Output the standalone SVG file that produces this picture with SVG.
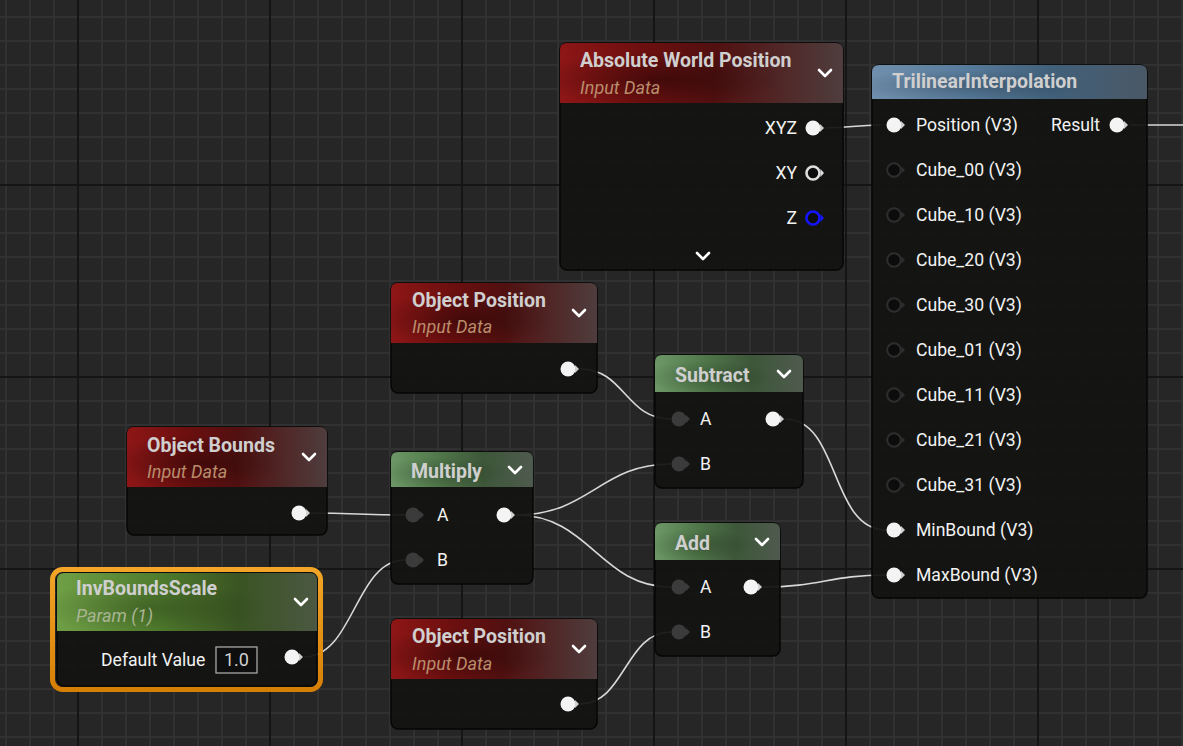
<svg xmlns="http://www.w3.org/2000/svg" xmlns:xlink="http://www.w3.org/1999/xlink" width="1183" height="746" viewBox="0 0 1183 746">
<defs>
<style>
.title{font-family:Roboto,"Liberation Sans",sans-serif;font-weight:bold;font-size:19.5px;fill:#cfcfcf}
.sub{font-family:Roboto,"Liberation Sans",sans-serif;font-style:italic;font-size:18px;fill:#b98d6c}
.subg{font-family:Roboto,"Liberation Sans",sans-serif;font-style:italic;font-size:18px;fill:#a9b592}
.pin{font-family:Roboto,"Liberation Sans",sans-serif;font-size:17.6px;fill:#f2f2f2}
.val{font-family:Roboto,"Liberation Sans",sans-serif;font-size:18px;fill:#d0d0d0}
.chev{fill:none;stroke:#fff;stroke-width:2.6;stroke-linecap:round;stroke-linejoin:round}
.body{fill:#131412;fill-opacity:0.94;stroke:#060606;stroke-width:1.5}
.wire{fill:none;stroke:#d8d8d8;stroke-width:1.6}
</style>
<pattern id="minor" x="5" y="16" width="24" height="24" patternUnits="userSpaceOnUse">
<rect width="24" height="24" fill="#262626"/>
<rect x="0" y="0" width="2" height="24" fill="#313131"/>
<rect x="0" y="0" width="24" height="2" fill="#313131"/>
</pattern>
<pattern id="major" x="77" y="184" width="192" height="192" patternUnits="userSpaceOnUse">
<rect x="0" y="0" width="2" height="192" fill="#151515"/>
<rect x="0" y="0" width="192" height="2" fill="#151515"/>
</pattern>
<linearGradient id="gRed" x1="0" y1="0" x2="1" y2="0">
<stop offset="0" stop-color="#8e1616"/>
<stop offset="0.3" stop-color="#6c0f0f"/>
<stop offset="0.55" stop-color="#521010"/>
<stop offset="1" stop-color="#4f3d3d"/>
</linearGradient>
<linearGradient id="gGreen" x1="0" y1="0" x2="1" y2="0">
<stop offset="0" stop-color="#6d9866"/>
<stop offset="0.35" stop-color="#4f7649"/>
<stop offset="0.65" stop-color="#3d5739"/>
<stop offset="1" stop-color="#4f5a4e"/>
</linearGradient>
<linearGradient id="gParam" x1="0" y1="0" x2="1" y2="0">
<stop offset="0" stop-color="#6f9f45"/>
<stop offset="0.4" stop-color="#4f7b2d"/>
<stop offset="0.7" stop-color="#3a5422"/>
<stop offset="1" stop-color="#4b5842"/>
</linearGradient>
<linearGradient id="gBlue" x1="0" y1="0" x2="1" y2="0">
<stop offset="0" stop-color="#6f8fad"/>
<stop offset="0.35" stop-color="#577b9b"/>
<stop offset="0.65" stop-color="#41607a"/>
<stop offset="1" stop-color="#4a5866"/>
</linearGradient>
<radialGradient id="gShade" cx="0.35" cy="0.6" r="0.45">
<stop offset="0" stop-color="#000" stop-opacity="0.35"/>
<stop offset="1" stop-color="#000" stop-opacity="0"/>
</radialGradient>
<linearGradient id="gOrange" x1="0" y1="0" x2="0" y2="1">
<stop offset="0" stop-color="#f2a527"/>
<stop offset="1" stop-color="#d67f06"/>
</linearGradient>
<g id="pinW"><circle r="7.5" fill="#f4f4f4"/><polygon points="7,-4 11,0 7,4" fill="#d0d0d0"/></g>
<g id="pinG"><circle r="7.5" fill="#3b3b3b"/><polygon points="7,-4 11,0 7,4" fill="#3b3b3b"/></g>
<g id="pinD"><circle r="6.8" fill="#0c0c0c" stroke="#2e2e2e" stroke-width="2"/><polygon points="7.5,-3.5 11,0 7.5,3.5" fill="#2e2e2e"/></g>
<g id="pinXY"><circle r="6.5" fill="#0c0c0c" stroke="#dedede" stroke-width="2.6"/><polygon points="7.5,-4 11,0 7.5,4" fill="#dedede"/></g>
<g id="pinZ"><circle r="6.5" fill="#0c0c0c" stroke="#1414ff" stroke-width="2.6"/><polygon points="7.5,-4 11,0 7.5,4" fill="#1414ff"/></g>
</defs>

<rect width="1183" height="746" fill="url(#minor)"/>
<rect width="1183" height="746" fill="url(#major)"/>

<g id="connectors">
<path class="wire" d="M825,128 C850,128 855,125 881,125"/>
<path class="wire" d="M1130,125 H1183"/>
<path class="wire" d="M580,369 C625,369 625,419 671,419"/>
<path class="wire" d="M311,513 C355,513 360,515 405,515"/>
<path class="wire" d="M304,657 C354,657 355,560 405,560"/>
<path class="wire" d="M516,515 C590,515 600,464 671,464"/>
<path class="wire" d="M516,515 C590,515 600,587 671,587"/>
<path class="wire" d="M785,419 C840,419 830,530 886,530"/>
<path class="wire" d="M763,587 C820,587 830,575 886,575"/>
<path class="wire" d="M580,704 C625,704 625,632 671,632"/>
</g>

<g id="node-absolute-world-position">
<rect class="body" x="560" y="43" width="283" height="227" rx="7"/>
<path d="M560,103 V50 Q560,43 567,43 H836 Q843,43 843,50 V103 Z" fill="url(#gRed)"/>
<path d="M560,103 V50 Q560,43 567,43 H836 Q843,43 843,50 V103 Z" fill="url(#gShade)"/>
<text class="title" x="580" y="67">Absolute World Position</text>
<text class="sub" x="580" y="94">Input Data</text>
<path class="chev" d="M819,70 L825,76 L831,70"/>
<text class="pin" x="797" y="134" text-anchor="end">XYZ</text>
<use href="#pinW" x="813" y="128"/>
<text class="pin" x="797" y="179" text-anchor="end">XY</text>
<use href="#pinXY" x="813" y="173"/>
<text class="pin" x="797" y="224" text-anchor="end">Z</text>
<use href="#pinZ" x="813" y="218"/>
<path class="chev" d="M697,253 L703,259 L709,253"/>
</g>

<g id="node-trilinear-interpolation">
<rect class="body" x="872" y="65" width="275" height="533" rx="7"/>
<path d="M872,99 V72 Q872,65 879,65 H1140 Q1147,65 1147,72 V99 Z" fill="url(#gBlue)"/>
<path d="M872,99 V72 Q872,65 879,65 H1140 Q1147,65 1147,72 V99 Z" fill="url(#gShade)" opacity="0.6"/>
<text class="title" x="892" y="88">TrilinearInterpolation</text>
<use href="#pinW" x="894" y="125"/>
<text class="pin" x="916" y="131">Position (V3)</text>
<text class="pin" x="1051" y="131">Result</text>
<use href="#pinW" x="1117" y="125"/>
<use href="#pinD" x="894" y="170"/><text class="pin" x="916" y="176">Cube_00 (V3)</text>
<use href="#pinD" x="894" y="215"/><text class="pin" x="916" y="221">Cube_10 (V3)</text>
<use href="#pinD" x="894" y="260"/><text class="pin" x="916" y="266">Cube_20 (V3)</text>
<use href="#pinD" x="894" y="305"/><text class="pin" x="916" y="311">Cube_30 (V3)</text>
<use href="#pinD" x="894" y="350"/><text class="pin" x="916" y="356">Cube_01 (V3)</text>
<use href="#pinD" x="894" y="395"/><text class="pin" x="916" y="401">Cube_11 (V3)</text>
<use href="#pinD" x="894" y="440"/><text class="pin" x="916" y="446">Cube_21 (V3)</text>
<use href="#pinD" x="894" y="485"/><text class="pin" x="916" y="491">Cube_31 (V3)</text>
<use href="#pinW" x="894" y="530"/><text class="pin" x="916" y="536">MinBound (V3)</text>
<use href="#pinW" x="894" y="575"/><text class="pin" x="916" y="581">MaxBound (V3)</text>
</g>

<g id="node-object-position-1">
<rect class="body" x="391" y="283" width="206" height="110" rx="7"/>
<path d="M391,343 V290 Q391,283 398,283 H590 Q597,283 597,290 V343 Z" fill="url(#gRed)"/>
<path d="M391,343 V290 Q391,283 398,283 H590 Q597,283 597,290 V343 Z" fill="url(#gShade)"/>
<text class="title" x="412" y="307">Object Position</text>
<text class="sub" x="412" y="333">Input Data</text>
<path class="chev" d="M573,310 L579,316 L585,310"/>
<use href="#pinW" x="568" y="369"/>
</g>

<g id="node-object-bounds">
<rect class="body" x="127" y="427" width="200" height="108" rx="7"/>
<path d="M127,487 V434 Q127,427 134,427 H320 Q327,427 327,434 V487 Z" fill="url(#gRed)"/>
<path d="M127,487 V434 Q127,427 134,427 H320 Q327,427 327,434 V487 Z" fill="url(#gShade)"/>
<text class="title" x="147" y="452">Object Bounds</text>
<text class="sub" x="147" y="478">Input Data</text>
<path class="chev" d="M303,454 L309,460 L315,454"/>
<use href="#pinW" x="299" y="513"/>
</g>

<g id="node-multiply">
<rect class="body" x="391" y="452" width="142" height="132" rx="7"/>
<path d="M391,487 V459 Q391,452 398,452 H526 Q533,452 533,459 V487 Z" fill="url(#gGreen)"/>
<path d="M391,487 V459 Q391,452 398,452 H526 Q533,452 533,459 V487 Z" fill="url(#gShade)" opacity="0.6"/>
<text class="title" x="411" y="478">Multiply</text>
<path class="chev" d="M509,467 L515,473 L521,467"/>
<use href="#pinG" x="413" y="515"/><text class="pin" x="437" y="521">A</text>
<use href="#pinG" x="413" y="560"/><text class="pin" x="437" y="566">B</text>
<use href="#pinW" x="504" y="515"/>
</g>

<g id="node-subtract">
<rect class="body" x="655" y="355" width="148" height="133" rx="7"/>
<path d="M655,392 V362 Q655,355 662,355 H796 Q803,355 803,362 V392 Z" fill="url(#gGreen)"/>
<path d="M655,392 V362 Q655,355 662,355 H796 Q803,355 803,362 V392 Z" fill="url(#gShade)" opacity="0.6"/>
<text class="title" x="675" y="382">Subtract</text>
<path class="chev" d="M778,371 L784,377 L790,371"/>
<use href="#pinG" x="679" y="419"/><text class="pin" x="700" y="425">A</text>
<use href="#pinG" x="679" y="464"/><text class="pin" x="700" y="470">B</text>
<use href="#pinW" x="773" y="419"/>
</g>

<g id="node-add">
<rect class="body" x="655" y="523" width="125" height="133" rx="7"/>
<path d="M655,560 V530 Q655,523 662,523 H773 Q780,523 780,530 V560 Z" fill="url(#gGreen)"/>
<path d="M655,560 V530 Q655,523 662,523 H773 Q780,523 780,530 V560 Z" fill="url(#gShade)" opacity="0.6"/>
<text class="title" x="675" y="550">Add</text>
<path class="chev" d="M756,539 L762,545 L768,539"/>
<use href="#pinG" x="679" y="587"/><text class="pin" x="700" y="593">A</text>
<use href="#pinG" x="679" y="632"/><text class="pin" x="700" y="638">B</text>
<use href="#pinW" x="751" y="587"/>
</g>

<g id="node-object-position-2">
<rect class="body" x="391" y="619" width="206" height="110" rx="7"/>
<path d="M391,679 V626 Q391,619 398,619 H590 Q597,619 597,626 V679 Z" fill="url(#gRed)"/>
<path d="M391,679 V626 Q391,619 398,619 H590 Q597,619 597,626 V679 Z" fill="url(#gShade)"/>
<text class="title" x="412" y="643">Object Position</text>
<text class="sub" x="412" y="670">Input Data</text>
<path class="chev" d="M573,646 L579,652 L585,646"/>
<use href="#pinW" x="568" y="704"/>
</g>

<g id="node-inv-bounds-scale">
<rect x="52.5" y="569.5" width="268" height="120" rx="10" fill="none" stroke="url(#gOrange)" stroke-width="5"/>
<rect class="body" x="57" y="573" width="260" height="113" rx="7"/>
<path d="M57,631 V580 Q57,573 64,573 H310 Q317,573 317,580 V631 Z" fill="url(#gParam)"/>
<path d="M57,631 V580 Q57,573 64,573 H310 Q317,573 317,580 V631 Z" fill="url(#gShade)" opacity="0.6"/>
<text class="title" x="76" y="595">InvBoundsScale</text>
<text class="subg" x="76" y="622">Param (1)</text>
<path class="chev" d="M295,599 L301,605 L307,599"/>
<text class="pin" x="101" y="666">Default Value</text>
<rect x="216" y="647" width="41" height="26" fill="#0e0e0e" stroke="#a8a8a8" stroke-width="1.3"/>
<text class="val" x="236.5" y="666" text-anchor="middle">1.0</text>
<use href="#pinW" x="292" y="657"/>
</g>
</svg>
